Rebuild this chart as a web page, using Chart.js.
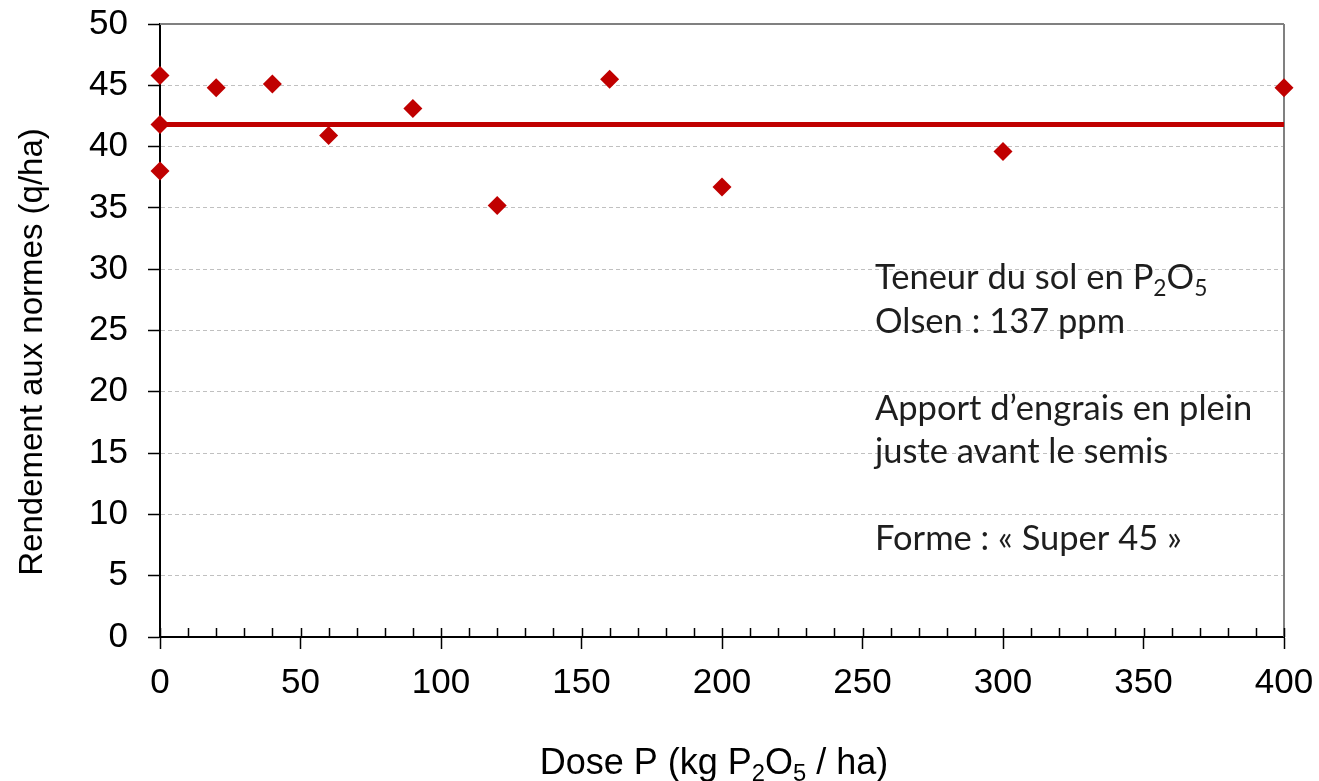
<!DOCTYPE html>
<html><head><meta charset="utf-8">
<script src="https://cdn.jsdelivr.net/npm/chart.js@4.4.1/dist/chart.umd.min.js"></script>
<style>html,body{margin:0;padding:0;background:#fff}#wrap{width:1319px;height:781px;position:relative}</style>
</head><body><div id="wrap"><canvas id="c" width="1319" height="781"></canvas></div>
<script>
// ---- data ----
const doses  = [0, 0, 0, 20, 40, 60, 90, 120, 160, 200, 300, 400];
const yields = [45.8, 41.8, 38.0, 44.8, 45.1, 40.9, 43.1, 35.2, 45.5, 36.7, 39.6, 44.8];
const meanYield = 41.8;
const meanRange = [0, 400];
const xMin = 0, xMax = 400, xStep = 50, xMinorStep = 10;
const yMin = 0, yMax = 50, yStep = 5;
const yTitle = 'Rendement aux normes (q/ha)';
const xTitleParts = [['Dose P (kg P', 0], ['2', 1], ['O', 0], ['5', 1], [' / ha)', 0]];
const noteLines = [
  [['Teneur du sol en P', 0], ['2', 1], ['O', 0], ['5', 1]],
  [['Olsen : 137 ppm', 0]],
  null,
  [['Apport d\u2019engrais en plein', 0]],
  [['juste avant le semis', 0]],
  null,
  [['Forme : \u00ab Super 45 \u00bb', 0]]
];

const RED = '#C00000';
const AX = 'Liberation Sans, Arial, sans-serif';
const NOTE = 'Lato, "Open Sans", sans-serif';

function drawParts(ctx, parts, x, y, size, family, align) {
  const subSize = size * 0.66;
  let total = 0;
  parts.forEach(p => { ctx.font = (p[1] ? subSize : size) + 'px ' + family; total += ctx.measureText(p[0]).width; });
  let cx = align === 'center' ? x - total / 2 : x;
  ctx.textBaseline = 'alphabetic'; ctx.textAlign = 'left';
  parts.forEach(p => {
    ctx.font = (p[1] ? subSize : size) + 'px ' + family;
    ctx.fillText(p[0], cx, y + (p[1] ? size * 0.2 : 0));
    cx += ctx.measureText(p[0]).width;
  });
}

const decor = {
  id: 'decor',
  beforeDatasetsDraw(chart) {
    const {ctx, chartArea: a, scales: {x, y}} = chart;
    ctx.save();
    // frame top & right
    ctx.strokeStyle = '#808080'; ctx.lineWidth = 2;
    ctx.beginPath();
    ctx.moveTo(a.left, y.getPixelForValue(yMax)); ctx.lineTo(a.right, y.getPixelForValue(yMax));
    ctx.moveTo(x.getPixelForValue(xMax), a.top); ctx.lineTo(x.getPixelForValue(xMax), a.bottom);
    ctx.stroke();
    // minor ticks inside the plot on the x axis
    ctx.strokeStyle = '#000'; ctx.lineWidth = 1.5;
    ctx.beginPath();
    for (let v = xMin; v <= xMax; v += xMinorStep) {
      const px = Math.round(x.getPixelForValue(v)) + 0.5;
      ctx.moveTo(px, a.bottom); ctx.lineTo(px, a.bottom - 9);
    }
    ctx.stroke();
    ctx.restore();
  },
  afterDraw(chart) {
    const {ctx} = chart;
    ctx.save();
    ctx.fillStyle = '#000';
    drawParts(ctx, xTitleParts, 714, 774, 36, AX, 'center');
    // y title
    ctx.save();
    ctx.translate(33, 352);
    ctx.rotate(-Math.PI / 2);
    ctx.font = '33px ' + AX;
    ctx.textAlign = 'center'; ctx.textBaseline = 'middle';
    ctx.fillText(yTitle, 0, 0);
    ctx.restore();
    // note
    ctx.fillStyle = '#1e1e1e';
    const base = 289, pitch = 43.5;
    noteLines.forEach((ln, i) => {
      if (ln) drawParts(ctx, ln, 875, base + i * pitch, 34.5, NOTE, 'left');
    });
    ctx.restore();
  }
};

new Chart(document.getElementById('c'), {
  data: {
    datasets: [
      {
        type: 'line',
        data: meanRange.map(v => ({x: v, y: meanYield})),
        borderColor: RED, borderWidth: 5, pointRadius: 0, fill: false, order: 2
      },
      {
        type: 'scatter',
        data: doses.map((d, i) => ({x: d, y: yields[i]})),
        pointStyle: 'rectRot', pointRadius: 9.5, pointHoverRadius: 9.5,
        backgroundColor: RED, borderColor: RED, borderWidth: 0, clip: false, order: 1
      }
    ]
  },
  options: {
    responsive: false, animation: false, events: [],
    layout: {padding: {top: 24, right: 35, left: 0, bottom: 0}},
    plugins: {legend: {display: false}, tooltip: {enabled: false}},
    scales: {
      x: {
        type: 'linear', min: xMin, max: xMax,
        afterFit(s) { s.height = 781 - 637; s.paddingLeft = 0; s.paddingRight = 0; },
        ticks: {stepSize: xStep, color: '#000', font: {family: AX, size: 35}, padding: 13, maxRotation: 0},
        grid: {drawOnChartArea: false, drawTicks: true, tickLength: 12, tickColor: '#000', tickWidth: 1.5},
        border: {color: '#000', width: 2}
      },
      y: {
        type: 'linear', min: yMin, max: yMax,
        afterFit(s) { s.width = 160; s.paddingTop = 0; s.paddingBottom = 0; },
        ticks: {stepSize: yStep, color: '#000', font: {family: AX, size: 35}, padding: 20},
        grid: {color: c => c.tick.value === yMin || c.tick.value === yMax ? 'rgba(0,0,0,0)' : '#c0c0c0',
               lineWidth: 1, tickColor: '#000', tickLength: 12, tickWidth: 1.5},
        border: {color: '#000', width: 2, dash: [4, 3]}
      }
    }
  },
  plugins: [decor]
});
</script></body></html>
